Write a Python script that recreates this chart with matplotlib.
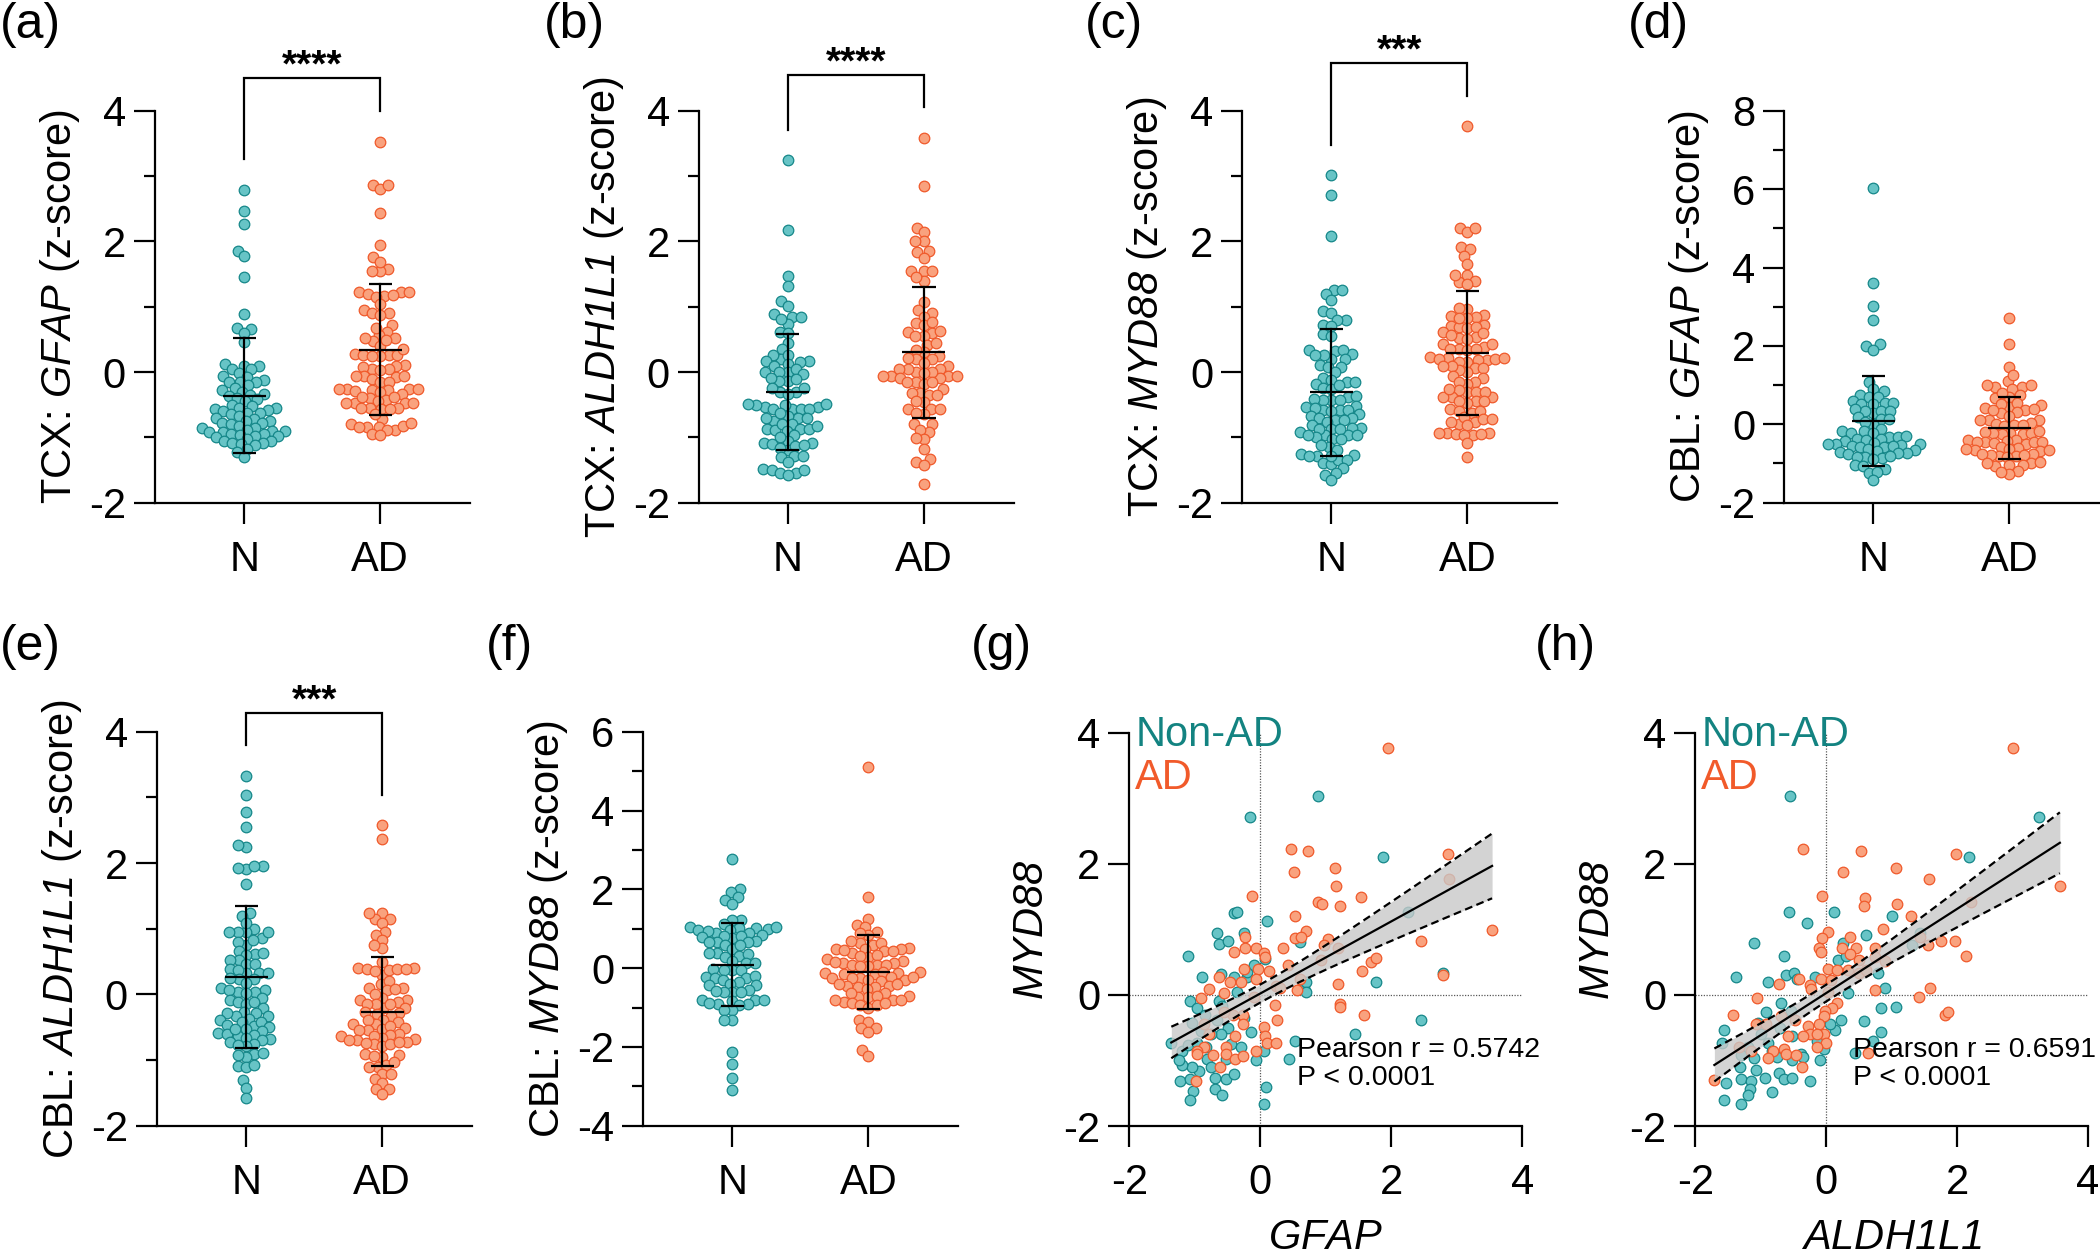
import numpy as np
import matplotlib
matplotlib.use('Agg')
import matplotlib.pyplot as plt
from matplotlib.ticker import MultipleLocator

plt.rcParams['font.family'] = 'Liberation Sans'
plt.rcParams['mathtext.fontset'] = 'custom'
plt.rcParams['mathtext.rm'] = 'Liberation Sans:italic'
plt.rcParams['mathtext.it'] = 'Liberation Sans:italic'
plt.rcParams['axes.unicode_minus'] = False

# ---- data (z-scores) ----
groups = ['N', 'AD']

a_n = [2.79, 2.46, 2.26, 1.86, 1.77, 1.45, 0.89, 0.67, 0.66, 0.59, 0.46,
       0.12, 0.10, 0.10, 0.05, 0.04, -0.02, -0.06, -0.07, -0.12, -0.15, -0.15, -0.16,
       -0.20, -0.25, -0.28, -0.30, -0.33, -0.35, -0.36, -0.40, -0.42, -0.45,
       -0.50, -0.52, -0.55, -0.55, -0.57, -0.58, -0.60, -0.62, -0.62, -0.65, -0.68,
       -0.70, -0.72, -0.75, -0.75, -0.78, -0.78, -0.80, -0.82, -0.85, -0.86,
       -0.88, -0.90, -0.90, -0.92, -0.92, -0.95, -0.95, -0.96, -0.98, -0.98, -1.00,
       -1.02, -1.05, -1.05, -1.08, -1.08, -1.10, -1.12, -1.18, -1.22, -1.30]
a_ad = [3.52, 2.86, 2.80, 2.86, 2.44, 1.95, 1.76, 1.58, 1.55, 1.55, 1.69,
        1.16, 1.22, 1.22, 1.19, 1.18, 1.22, 1.15, 1.04, 0.95, 0.90, 0.90, 0.88, 0.72,
        0.62, 0.56, 0.52, 0.47, 0.40, 0.49, 0.68, 0.52, 0.27, 0.26, 0.26, 0.26, 0.24, 0.35, 0.24,
        0.05, 0.11, 0.10, 0.05, 0.03, 0.07, -0.08, -0.06, -0.06, -0.06, -0.10, -0.15, -0.15,
        -0.26, -0.26, -0.33, -0.26, -0.27, -0.28, -0.31, -0.29, -0.26,
        -0.47, -0.40, -0.43, -0.47, -0.44, -0.38, -0.38, -0.47, -0.47,
        -0.55, -0.55, -0.56, -0.55, -0.56, -0.72, -0.65,
        -0.88, -0.84, -0.82, -0.80, -0.84, -0.89, -0.84, -0.78, -0.95, -0.97]

b_n = [3.24, 2.18, 1.47, 1.32, 1.08, 1.01, 0.85, 0.89, 0.85, 0.74, 0.81, 0.62, 0.60, 0.45, 0.35,
       0.20, 0.26, 0.26, 0.17, 0.17, 0.15, 0.13, 0.10, 0.0, 0.0, 0.04, 0.0, -0.03,
       -0.13, -0.13, -0.10, -0.09, -0.30, -0.30, -0.25, -0.25, -0.34,
       -0.57, -0.53, -0.51, -0.57, -0.51, -0.53, -0.49, -0.49, -0.56, -0.56,
       -0.75, -0.71, -0.71, -0.68, -0.71, -0.62, -0.80,
       -0.87, -0.87, -0.87, -0.89, -0.83, -0.79, -0.90,
       -1.08, -0.96, -1.08, -1.05, -0.99, -1.19, -1.10, -1.13, -1.12, -1.16,
       -1.28, -1.30, -1.28, -1.37, -1.48, -1.50, -1.55, -1.55, -1.58, -1.50]
b_ad = [3.58, 2.85, 2.21, 2.14, 2.0, 2.0, 1.86, 1.83, 1.75, 1.55, 1.55, 1.55, 1.40, 1.45,
        1.07, 0.90, 0.95, 0.85, 0.75, 0.72, 0.76, 0.60, 0.55, 0.62, 0.63, 0.42, 0.45, 0.55,
        0.30, 0.25, 0.34, 0.20, 0.21, 0.20, 0.09, 0.0, 0.04, 0.14, 0.05, 0.04,
        -0.06, -0.09, -0.06, -0.09, 0.0, -0.02, -0.06, -0.06, -0.15, -0.18, -0.15, -0.15,
        -0.32, -0.26, -0.32, -0.35, -0.35, -0.46, -0.44, -0.57, -0.57, -0.57, -0.64, -0.62,
        -0.80, -0.80, -0.92, -0.89, -1.03, -1.01, -1.18, -1.33, -1.37, -1.42, -1.71]

c_n = [3.02, 2.71, 2.08, 1.25, 1.20, 1.25, 1.10, 0.93, 0.91, 0.80, 0.79, 0.72, 0.58, 0.55, 0.70,
       0.27, 0.32, 0.34, 0.20, 0.20, 0.26, 0.34, 0.26, 0.11, 0.08, 0.08, 0.0, -0.09,
       -0.15, -0.15, -0.18, -0.12, -0.25, -0.26, -0.20, -0.43, -0.38, -0.43, -0.37, -0.43, -0.41,
       -0.58, -0.52, -0.54, -0.55, -0.58, -0.58, -0.60, -0.64, -0.68, -0.71, -0.74, -0.71, -0.76, -0.73,
       -0.86, -0.81, -0.87, -0.92, -0.85, -0.97, -0.97, -0.87, -0.87, -1.03, -1.00, -0.97, -0.97, -1.03,
       -1.15, -1.19, -1.11, -1.29, -1.27, -1.26, -1.29, -1.39, -1.41, -1.34, -1.34, -1.28,
       -1.47, -1.57, -1.54, -1.65]
c_ad = [3.76, 2.20, 2.15, 2.20, 1.92, 1.88, 1.78, 1.66, 1.48, 1.40, 1.38, 1.35, 1.49,
        0.97, 0.87, 0.85, 0.83, 0.98, 0.86, 0.72, 0.70, 0.69, 0.67, 0.83, 0.69,
        0.62, 0.53, 0.59, 0.52, 0.50, 0.56, 0.39, 0.43, 0.35, 0.34, 0.43, 0.35, 0.36,
        0.19, 0.20, 0.18, 0.21, 0.15, 0.21, 0.23, 0.20, 0.16, 0.06, 0.06, 0.0, 0.03, 0.09, 0.09,
        -0.09, -0.15, -0.18, -0.06, -0.15, -0.31, -0.28, -0.38, -0.38, -0.38, -0.31, -0.31, -0.26,
        -0.44, -0.47, -0.44, -0.45, -0.56, -0.63, -0.59, -0.59,
        -0.77, -0.72, -0.80, -0.72, -0.69, -0.76, -0.81,
        -0.93, -0.93, -0.96, -0.93, -0.95, -0.95, -0.97, -1.09, -1.30]

d_n = [6.04, 3.61, 3.01, 2.66, 2.04, 2.0, 1.90, 1.09, 0.90, 0.85, 0.75, 0.70, 0.70, 0.60,
       0.52, 0.55, 0.52, 0.55, 0.28, 0.33, 0.35, 0.35, 0.38, 0.13, 0.13, 0.18, 0.02, 0.07,
       -0.18, -0.13, -0.18, -0.23, -0.23, -0.32, -0.37, -0.32, -0.30, -0.42, -0.37, -0.39,
       -0.47, -0.49, -0.51, -0.53, -0.55, -0.57, -0.59, -0.50, -0.56,
       -0.64, -0.66, -0.68, -0.70, -0.72, -0.74, -0.77, -0.86, -0.81, -0.84, -0.88, -0.83,
       -1.05, -1.07, -1.15, -1.24, -1.22, -1.42]
d_ad = [2.72, 2.06, 1.46, 1.10, 1.26, 0.96, 1.0, 0.91, 0.94, 1.0, 0.70, 0.75, 0.66, 0.80,
        0.50, 0.45, 0.55, 0.52, 0.36, 0.39, 0.41, 0.29, 0.36, 0.31, 0.12, 0.12, 0.12, 0.22,
        -0.02, 0.01, 0.03, -0.05, -0.02, -0.21, -0.26, -0.21, -0.26, -0.21, -0.19, -0.16,
        -0.41, -0.39, -0.46, -0.48, -0.44, -0.51, -0.46, -0.42, -0.44,
        -0.60, -0.65, -0.58, -0.63, -0.67, -0.62, -0.65, -0.77, -0.82, -0.79, -0.80, -0.84, -0.79, -0.75,
        -1.0, -1.05, -1.03, -1.07, -0.99, -0.97, -1.20, -1.27, -1.22]

e_n = [3.33, 3.04, 2.78, 2.55, 2.25, 2.28, 1.91, 1.96, 1.93, 1.95, 1.68,
       1.24, 1.20, 1.0, 0.95, 0.95, 0.95, 1.09, 0.76, 0.80, 0.86, 0.95, 0.83,
       0.66, 0.62, 0.63, 0.60, 0.52, 0.46, 0.46, 0.52, 0.32, 0.39, 0.33, 0.37, 0.33, 0.23, 0.25, 0.23, 0.17,
       0.07, 0.04, 0.10, 0.06, 0.04, 0.02, -0.08, -0.11, -0.05, -0.14, -0.11,
       -0.27, -0.33, -0.21, -0.29, -0.29, -0.39, -0.37, -0.42, -0.33, -0.48, -0.46, -0.42,
       -0.50, -0.53, -0.56, -0.58, -0.60, -0.62, -0.64, -0.66, -0.68, -0.70, -0.72, -0.52,
       -0.76, -0.79, -0.77, -0.91, -0.95, -0.92, -0.89, -1.09, -1.10, -1.07, -1.30, -1.42, -1.57]
e_ad = [2.58, 2.36, 1.24, 1.15, 1.24, 1.15, 1.09, 0.95, 0.91, 0.83, 0.70, 0.75, 0.49,
        0.41, 0.39, 0.29, 0.37, 0.38, 0.35, 0.41, 0.39, 0.10, 0.16, 0.20, 0.10, 0.06, 0.08,
        -0.05, -0.08, -0.08, -0.11, 0.01, -0.21, -0.14, -0.21, -0.14, -0.14, -0.29, -0.30, -0.33, -0.27,
        -0.42, -0.39, -0.45, -0.39, -0.45, -0.53, -0.48, -0.51, -0.54, -0.54,
        -0.60, -0.62, -0.64, -0.66, -0.68, -0.70, -0.72, -0.63, -0.69, -0.76, -0.79, -0.76, -0.73, -0.74,
        -0.91, -0.95, -0.93, -0.92, -1.10, -1.10, -1.07, -1.03, -1.21, -1.29, -1.21, -1.35,
        -1.44, -1.44, -1.52]

f_n = [2.77, 2.01, 1.93, 1.80, 1.72, 1.64, 1.23, 1.21, 1.12,
       1.05, 1.02, 1.02, 0.98, 0.90, 1.0, 0.98, 0.95, 1.05, 0.90, 0.85, 0.77, 0.79, 0.81, 0.81,
       0.67, 0.69, 0.67, 0.67, 0.59, 0.48, 0.59, 0.38, 0.30, 0.36, 0.38, 0.28, 0.12, 0.18, 0.12,
       -0.05, -0.05, -0.03, -0.05, -0.22, -0.24, -0.19, -0.24, -0.29, -0.34, -0.39, -0.42, -0.42,
       -0.55, -0.60, -0.60, -0.60, -0.57, -0.84, -0.91, -0.80, -0.80, -0.91, -0.88, -0.80, -0.94,
       -1.06, -1.06, -1.32, -1.32, -2.14, -2.42, -2.79, -3.10]
f_ad = [5.10, 1.80, 1.26, 1.10, 1.05, 0.92, 0.85, 0.88, 0.51, 0.59, 0.64, 0.64, 0.69,
        0.48, 0.49, 0.44, 0.38, 0.49, 0.47, 0.44, 0.28, 0.30, 0.23, 0.19, 0.33, 0.12,
        0.09, 0.09, 0.06, 0.13, 0.15, 0.09, 0.06, -0.13, -0.16, -0.11, -0.13, -0.16, -0.11,
        -0.26, -0.26, -0.31, -0.33, -0.31, -0.26, -0.23, -0.23, -0.44, -0.49, -0.44, -0.47, -0.39, -0.39, -0.52,
        -0.73, -0.63, -0.70, -0.73, -0.70, -0.63, -0.80, -0.85, -0.80, -0.88, -0.80,
        -0.94, -1.0, -0.94, -0.88, -1.32, -1.37, -1.53, -1.53, -1.63, -2.07, -2.22]

# mean and SD bars as drawn (N, AD)
a_stats = [(-0.36, 0.88), (0.34, 1.00)]
b_stats = [(-0.31, 0.89), (0.30, 1.00)]
c_stats = [(-0.31, 0.97), (0.29, 0.95)]
d_stats = [(0.09, 1.15), (-0.09, 0.79)]
e_stats = [(0.26, 1.08), (-0.26, 0.83)]
f_stats = [(0.09, 1.05), (-0.10, 0.93)]

# correlation panels: (x, y) pairs
g_nonad = [(-0.16, 2.72), (0.88, 3.03), (1.87, 2.10), (2.26, 1.26), (-0.40, 1.25), (-0.35, 1.27), (0.10, 1.12),
           (-0.66, 0.94), (-0.25, 0.95), (-0.63, 0.78), (-0.49, 0.82), (-1.11, 0.59), (0.60, 0.80), (0.07, 0.55),
           (-0.89, 0.28), (-0.60, 0.32), (-0.40, 0.28), (-0.21, 0.27), (-0.35, 0.05),
           (0.67, 0.11), (0.69, 0.20), (1.77, 0.20), (2.79, 0.34),
           (-1.07, -0.10), (-0.97, -0.20), (-0.63, -0.10), (-0.58, -0.17),
           (-1.04, -0.43), (-0.66, -0.39), (-0.49, -0.51), (-0.15, -0.57),
           (2.46, -0.39), (1.45, -0.59), (0.53, -0.70),
           (-1.36, -0.73), (-1.20, -0.85), (-1.11, -0.76), (-0.97, -0.73), (-0.83, -0.79), (-0.60, -0.60),
           (-0.52, -0.98), (-0.07, -1.00), (0.05, -0.85), (0.44, -0.98), (-0.94, -1.16), (-1.04, -1.10),
           (-1.23, -1.32), (-1.08, -1.29), (-0.69, -1.27), (-0.53, -1.29),
           (-1.03, -1.47), (-0.69, -1.44), (-0.58, -1.53), (-1.07, -1.60),
           (0.09, -1.41), (0.05, -1.66), (-1.20, -1.07), (-0.81, -0.98),
           (-0.75, -0.60), (-0.45, -0.75), (-0.30, -0.80), (-0.90, -0.55), (-0.20, 0.35), (-0.10, 0.45),
           (0.70, 0.05), (-1.25, -1.00), (-0.75, -1.10), (-0.40, -1.20), (-0.25, -0.35), (-0.85, -0.30)]
g_ad = [(1.95, 3.77), (0.47, 2.23), (0.73, 2.20), (0.51, 1.88), (1.14, 1.93), (1.15, 1.66), (2.87, 2.15), (2.88, 1.77),
        (-0.12, 1.51), (0.88, 1.41), (0.94, 1.38), (1.54, 1.49), (1.22, 1.35), (0.53, 1.21),
        (0.69, 0.98), (0.53, 0.87), (0.62, 0.89), (-0.24, 0.89), (1.03, 0.85), (0.98, 0.76), (3.54, 0.99), (2.45, 0.82),
        (1.18, 0.71), (-0.40, 0.65), (-0.24, 0.71), (-0.07, 0.71), (0.05, 0.64), (0.07, 0.58), (0.34, 0.71), (0.92, 0.54),
        (1.69, 0.50), (1.77, 0.57), (0.43, 0.45), (-0.25, 0.39), (-0.04, 0.40), (0.13, 0.36), (1.56, 0.36),
        (-0.63, 0.27), (-0.46, 0.19), (-0.29, 0.19), (-0.07, 0.24), (0.61, 0.25), (2.79, 0.31),
        (-0.79, 0.09), (-0.55, 0.03), (-0.90, -0.04), (0.24, 0.14), (0.30, 0.11), (0.56, 0.07), (1.19, 0.16),
        (-0.10, -0.03), (0.23, -0.16), (1.22, -0.14), (1.22, -0.18),
        (-0.41, -0.31), (-0.55, -0.26), (-0.27, -0.31), (1.59, -0.31), (0.26, -0.38),
        (-0.86, -0.45), (-0.27, -0.45), (0.05, -0.49), (-0.79, -0.60), (-0.38, -0.63), (0.07, -0.63),
        (0.10, -0.73), (0.24, -0.74), (-0.86, -0.80), (-0.97, -0.85), (-0.52, -0.80), (-0.07, -0.86),
        (-0.97, -0.90), (-0.72, -0.91), (-0.53, -0.90), (-0.38, -0.98), (-0.27, -0.93), (-0.62, -1.10), (-0.98, -1.32)]

h_nonad = [(-0.56, 3.03), (3.25, 2.72), (2.18, 2.10), (-0.57, 1.26), (-0.29, 1.10), (0.12, 1.26), (1.00, 1.21),
           (-1.11, 0.79), (0.61, 0.92), (0.25, 0.79), (1.44, 0.94), (1.31, 0.76), (-0.64, 0.59), (0.18, 0.54),
           (-1.38, 0.27), (-0.89, 0.20), (-0.61, 0.30), (-0.50, 0.34), (-0.17, 0.27), (0.79, 0.33), (0.89, 0.11), (0.33, 0.03),
           (-0.69, -0.12), (-0.54, -0.24), (-0.92, -0.26), (0.83, -0.20), (1.06, -0.18),
           (0.22, -0.39), (0.14, -0.53), (0.57, -0.40), (-1.56, -0.53), (-1.04, -0.43), (0.83, -0.57), (0.72, -0.70),
           (-1.59, -0.73), (-0.89, -0.73), (-0.53, -0.63), (-0.14, -0.70), (-0.03, -0.82),
           (-1.31, -0.91), (-1.11, -0.97), (-0.83, -0.85), (-0.39, -0.90), (0.44, -0.88), (-0.53, -1.00), (-0.09, -1.00),
           (-1.32, -1.10), (-1.08, -1.15), (-0.94, -1.27), (-0.72, -1.19),
           (-1.53, -1.35), (-1.31, -1.29), (-1.15, -1.32), (-0.64, -1.29), (-0.53, -1.27), (-0.25, -1.32),
           (-1.17, -1.44), (-1.19, -1.53), (-0.83, -1.48), (-1.56, -1.60), (-1.31, -1.66),
           (-0.35, -0.95), (-0.75, -0.95), (-1.20, -0.80), (0.05, -0.45), (-0.45, 0.25), (-0.70, -0.50),
           (0.30, 0.60), (-1.00, -0.60)]
h_ad = [(2.85, 3.77), (-0.36, 2.23), (0.53, 2.20), (0.26, 1.88), (1.06, 1.93), (1.98, 2.15), (1.57, 1.77), (3.57, 1.66),
        (-0.06, 1.51), (0.59, 1.48), (0.58, 1.35), (1.08, 1.39), (2.21, 1.41), (1.29, 1.21), (0.87, 1.00),
        (0.02, 0.96), (-0.06, 0.87), (0.37, 0.89), (1.76, 0.82), (1.96, 0.82), (1.43, 0.89), (1.56, 0.76),
        (-0.11, 0.71), (-0.08, 0.65), (0.24, 0.71), (0.46, 0.71), (0.75, 0.71), (0.37, 0.63), (2.13, 0.59),
        (0.50, 0.53), (0.89, 0.51), (0.74, 0.58), (0.03, 0.39), (0.17, 0.38), (0.33, 0.38), (0.50, 0.33), (0.61, 0.38),
        (-0.41, 0.25), (-0.25, 0.15), (-0.08, 0.25), (0.07, 0.23), (-0.72, 0.17), (-0.24, 0.09), (0.03, 0.05),
        (0.75, 0.07), (1.58, 0.10), (1.41, -0.03), (-1.06, -0.04), (0.17, -0.12), (0.09, -0.20), (-0.02, -0.24),
        (1.81, -0.31), (1.86, -0.26), (-1.42, -0.31), (-0.69, -0.32), (-0.03, -0.32), (-0.48, -0.39),
        (-1.07, -0.45), (-0.92, -0.45), (-0.28, -0.48), (-0.11, -0.45), (-0.04, -0.60),
        (-0.58, -0.62), (-0.25, -0.60), (-0.14, -0.59), (0.00, -0.74), (-1.33, -0.79), (-1.15, -0.85),
        (-0.35, -0.63), (-0.81, -0.86), (-0.65, -0.82), (-0.14, -0.80), (-0.89, -0.96), (-0.61, -0.90), (-0.47, -0.91),
        (0.64, -0.88), (-0.37, -1.10), (-1.71, -1.30)]

g_r_text = 'Pearson r = 0.5742\nP < 0.0001'
h_r_text = 'Pearson r = 0.6591\nP < 0.0001'

# ---- style ----
W, H = 2100, 1257
TEAL_FC, TEAL_EC = '#67C4C6', '#158789'
ORG_FC, ORG_EC = '#F9A27E', '#F0592A'
TEAL_TXT, ORG_TXT = '#138381', '#F15A2A'
MS, EW = 58, 0.9
LW = 1.6
FS = 30

fig = plt.figure(figsize=(W / 100, H / 100), dpi=100)


def add_ax(l, t, r, b):
    ax = fig.add_axes([l / W, 1 - b / H, (r - l) / W, (b - t) / H])
    ax.patch.set_alpha(0)
    for s in ('top', 'right'):
        ax.spines[s].set_visible(False)
    for s in ('left', 'bottom'):
        ax.spines[s].set_linewidth(LW)
    ax.tick_params(which='major', length=14.9, width=LW, labelsize=FS, direction='out')
    ax.tick_params(which='minor', length=7.7, width=LW, direction='out')
    ax.tick_params(axis='y', pad=6)
    ax.tick_params(axis='x', pad=12)
    return ax


def swarm(vals, px_x, px_y, d=8.5):
    # beeswarm offsets, worked out in pixel space
    v = np.asarray(vals, float)
    ys = v * px_y
    xs = np.zeros(len(v))
    placed = []
    for i in np.argsort(v, kind='stable'):
        y = ys[i]
        near = [(px, py) for px, py in placed if abs(py - y) < d]
        cands = [0.0]
        for px, py in near:
            dx = np.sqrt(d * d - (py - y) ** 2)
            cands += [px + dx, px - dx]
        cands.sort(key=lambda c: (abs(c), c))
        for c in cands:
            if all((c - px) ** 2 + (y - py) ** 2 >= d * d - 1e-6 for px, py in near):
                xs[i] = c
                placed.append((c, y))
                break
    return xs / px_x


def strip_panel(rect, n_vals, ad_vals, stats, ylim, ylabel, sig=None):
    l, t, r, b = rect
    ax = add_ax(*rect)
    x0, x1 = -0.655, 1.66
    ax.set_xlim(x0, x1)
    ax.set_ylim(*ylim)
    px_x = (r - l) / (x1 - x0)
    px_y = (b - t) / (ylim[1] - ylim[0])
    for i, (vals, fc, ec) in enumerate([(n_vals, TEAL_FC, TEAL_EC), (ad_vals, ORG_FC, ORG_EC)]):
        offs = swarm(vals, px_x, px_y)
        ax.scatter(i + offs, vals, s=MS, fc=fc, ec=ec, lw=EW, zorder=3, clip_on=False)
        m, sd = stats[i]
        ax.plot([i - 0.158, i + 0.158], [m, m], color='k', lw=LW, zorder=4, solid_capstyle='butt')
        ax.plot([i, i], [m - sd, m + sd], color='k', lw=LW, zorder=4)
        for yy in (m - sd, m + sd):
            ax.plot([i - 0.085, i + 0.085], [yy, yy], color='k', lw=LW, zorder=4, solid_capstyle='butt')
    ax.set_xticks([0, 1])
    ax.set_xticklabels(groups)
    ax.yaxis.set_major_locator(MultipleLocator(2))
    ax.yaxis.set_minor_locator(MultipleLocator(1))
    fig.text((l - 95) / W, 1 - (t + b) / 2 / H, ylabel, rotation=90, ha='center', va='center', fontsize=FS)
    if sig is not None:
        top, lb, rb, stars = sig
        ax.plot([0, 0, 1, 1], [lb, top, top, rb], color='k', lw=LW, clip_on=False,
                solid_joinstyle='miter')
        ax.text(0.5, top + 0.03, stars, ha='center', va='baseline', fontsize=28,
                fontweight='bold', clip_on=False)
    return ax


def corr_panel(rect, nonad, ad, xlabel, rtext, tx):
    l, t, r, b = rect
    ax = add_ax(*rect)
    ax.set_xlim(-2, 4)
    ax.set_ylim(-2, 4)
    ax.set_xticks([-2, 0, 2, 4])
    ax.set_yticks([-2, 0, 2, 4])
    ax.axvline(0, color='0.35', lw=0.9, ls=(0, (1, 1.2)), zorder=1)
    ax.axhline(0, color='0.35', lw=0.9, ls=(0, (1, 1.2)), zorder=1)
    xn, yn = np.array(nonad).T
    xa, ya = np.array(ad).T
    ax.scatter(xn, yn, s=MS, fc=TEAL_FC, ec=TEAL_EC, lw=EW, zorder=3)
    ax.scatter(xa, ya, s=MS, fc=ORG_FC, ec=ORG_EC, lw=EW, zorder=3)
    x = np.concatenate([xn, xa])
    y = np.concatenate([yn, ya])
    slope, inter = np.polyfit(x, y, 1)
    xs = np.linspace(x.min(), x.max(), 200)
    n = len(x)
    s = np.sqrt(np.sum((y - (slope * x + inter)) ** 2) / (n - 2))
    se = s * np.sqrt(1 / n + (xs - x.mean()) ** 2 / np.sum((x - x.mean()) ** 2))
    fit = slope * xs + inter
    ax.fill_between(xs, fit - 1.975 * se, fit + 1.975 * se, color='#C9C9C9', alpha=0.8, lw=0, zorder=4)
    ax.plot(xs, fit, color='k', lw=LW, zorder=5)
    for sgn in (-1, 1):
        ax.plot(xs, fit + sgn * 1.975 * se, color='k', lw=LW, ls=(0, (3.5, 2)), zorder=5)
    ax.text(-1.9, 3.79, 'Non-AD', color=TEAL_TXT, fontsize=FS, ha='left', va='baseline')
    ax.text(-1.92, 3.14, 'AD', color=ORG_TXT, fontsize=FS, ha='left', va='baseline')
    ax.text(tx, -1.375, rtext, fontsize=20.5, ha='left', va='baseline', linespacing=1.12)
    fig.text((l - 97) / W, 1 - (t + b) / 2 / H, r'$\mathit{MYD88}$', rotation=90,
             ha='center', va='center', fontsize=FS)
    fig.text((l + r) / 2 / W, 1 - 1238 / H, xlabel, ha='center', va='center', fontsize=FS)
    return ax


strip_panel((155, 110.7, 470, 502.7), a_n, a_ad, a_stats, (-2, 4),
            r'TCX: $\mathit{GFAP}$ (z-score)', (4.50, 3.26, 4.00, '****'))
strip_panel((698.8, 110.7, 1013.8, 502.7), b_n, b_ad, b_stats, (-2, 4),
            r'TCX: $\mathit{ALDH1L1}$ (z-score)', (4.54, 3.71, 4.05, '****'))
strip_panel((1242.2, 110.7, 1557.2, 502.7), c_n, c_ad, c_stats, (-2, 4),
            r'TCX: $\mathit{MYD88}$ (z-score)', (4.73, 3.48, 4.23, '***'))
strip_panel((1784.3, 110.7, 2099.3, 502.7), d_n, d_ad, d_stats, (-2, 8),
            r'CBL: $\mathit{GFAP}$ (z-score)')
strip_panel((157, 731.7, 472, 1125.8), e_n, e_ad, e_stats, (-2, 4),
            r'CBL: $\mathit{ALDH1L1}$ (z-score)', (4.28, 3.80, 3.03, '***'))
strip_panel((643.3, 731.7, 958.3, 1125.8), f_n, f_ad, f_stats, (-4, 6),
            r'CBL: $\mathit{MYD88}$ (z-score)')
corr_panel((1129.4, 732.7, 1522.2, 1126), g_nonad, g_ad, r'$\mathit{GFAP}$', g_r_text, 0.555)
corr_panel((1695.4, 732.7, 2088, 1126), h_nonad, h_ad, r'$\mathit{ALDH1L1}$', h_r_text, 0.416)

# panel letters
for lab, (px, py) in zip('abcdefgh', [(0, 2), (544, 2), (1085, 2), (1628, 2),
                                     (0, 624), (486, 624), (971, 624), (1535, 624)]):
    fig.text(px / W, 1 - py / H, f'({lab})', fontsize=36, ha='left', va='top')

fig.savefig('out.png', dpi=100)
